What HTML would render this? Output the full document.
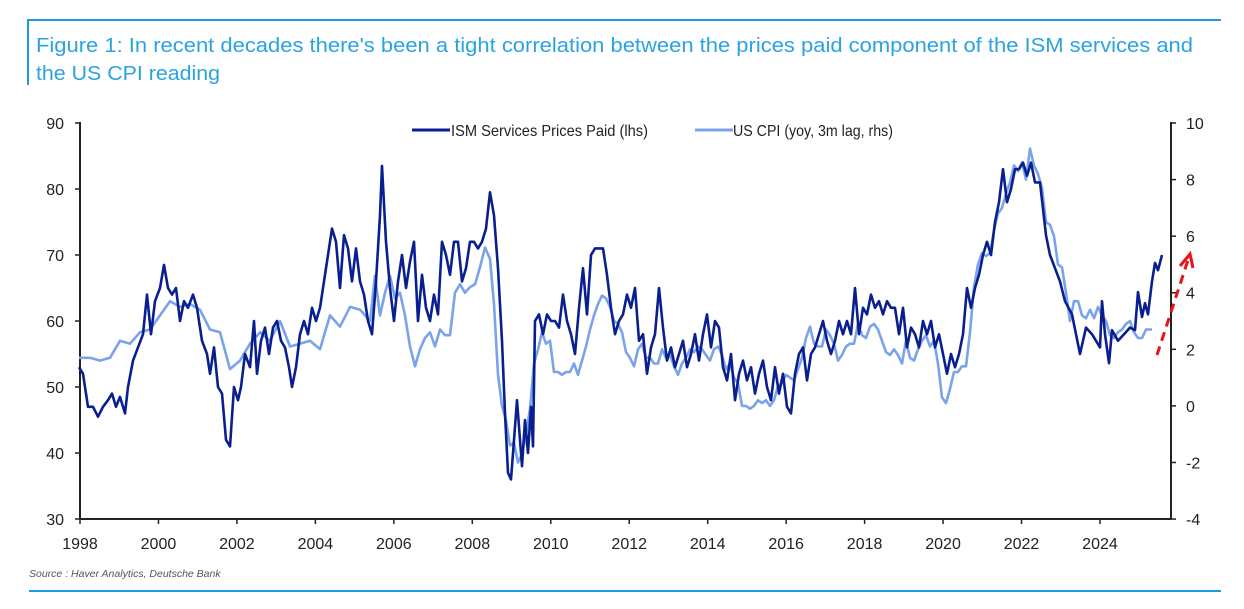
<!DOCTYPE html>
<html><head><meta charset="utf-8"><style>
html,body{margin:0;padding:0;background:#fff;}
body{width:1244px;height:604px;overflow:hidden;font-family:"Liberation Sans",sans-serif;}
</style></head><body>
<svg id="s" width="1244" height="604" viewBox="0 0 1244 604" xmlns="http://www.w3.org/2000/svg" font-family="Liberation Sans, sans-serif">
<line x1="27" y1="20" x2="1221" y2="20" stroke="#1e9be0" stroke-width="2"/>
<line x1="28" y1="20" x2="28" y2="85" stroke="#1e9be0" stroke-width="2"/>
<text x="36" y="52" font-size="20.5" fill="#2aa3df" textLength="1157" lengthAdjust="spacingAndGlyphs">Figure 1: In recent decades there's been a tight correlation between the prices paid component of the ISM services and</text>
<text x="36" y="80" font-size="20.5" fill="#2aa3df" textLength="184" lengthAdjust="spacingAndGlyphs">the US CPI reading</text>
<line x1="29" y1="591" x2="1221" y2="591" stroke="#1e9be0" stroke-width="2"/>
<text x="29" y="577" font-size="10.5" font-style="italic" fill="#555">Source : Haver Analytics, Deutsche Bank</text>
<g id="axes" stroke="#222" stroke-width="2" fill="none">
<line x1="80" y1="122" x2="80" y2="519"/>
<line x1="80" y1="519" x2="1171" y2="519"/>
<line x1="1171" y1="122" x2="1171" y2="519"/>
</g>
<g id="ticks" stroke="#222" stroke-width="1.5"></g>
<g id="labels" font-size="16" fill="#222"></g>
<line x1="412" y1="130" x2="450" y2="130" stroke="#0a1f8f" stroke-width="3"/>
<text x="451" y="136" font-size="16" fill="#222" textLength="197" lengthAdjust="spacingAndGlyphs">ISM Services Prices Paid (lhs)</text>
<line x1="695" y1="130" x2="733" y2="130" stroke="#7aa3ea" stroke-width="3"/>
<text x="733" y="136" font-size="16" fill="#222" textLength="160" lengthAdjust="spacingAndGlyphs">US CPI (yoy, 3m lag, rhs)</text>
<polyline id="cpi" fill="none" stroke="#7aa3ea" stroke-width="2.6" stroke-linejoin="round"/>
<polyline id="ism" fill="none" stroke="#0a1f8f" stroke-width="2.6" stroke-linejoin="round"/>
<path d="M1157 355 L1188 260" stroke="#e8141c" stroke-width="3" stroke-dasharray="9,6" fill="none"/>
<path d="M1180 266 L1190 254 L1193 268" stroke="#e8141c" stroke-width="3" fill="none"/>
</svg>
<script>
var NS="http://www.w3.org/2000/svg";
function el(p,t,a,txt){var e=document.createElementNS(NS,t);for(var k in a)e.setAttribute(k,a[k]);if(txt!=null)e.textContent=txt;document.getElementById(p).appendChild(e);}
for(var v=30;v<=90;v+=10){var y=519-(v-30)*6.6;el("ticks","line",{x1:75,y1:y,x2:80,y2:y});el("labels","text",{x:64,y:y+6,"text-anchor":"end"},v);}
for(var v=-4;v<=10;v+=2){var y=123+(10-v)*28.29;el("ticks","line",{x1:1171,y1:y,x2:1176,y2:y});el("labels","text",{x:1186,y:y+6},v);}
for(var yr=1998;yr<=2024;yr+=2){var x=80+(yr-1998)*39.23;el("ticks","line",{x1:x,y1:519,x2:x,y2:524});el("labels","text",{x:x,y:549,"text-anchor":"middle"},yr);}
var ism=[79,53,83,52,88,47,93,47,98,45.5,103,47,108,48,112,49,116,47,120,48.5,125,46,128,50,133,54,138,56,143,58,147,64,151,58,155,63,160,65,164,68.5,168,65,172,64,176,65,180,60,184,63,188,62,193,64,197,62,202,57,207,55,210,52,214,56,218,50,222,49,226,42,230,41,234,50,238,48,241,50,245,55,250,53,254,60,257,52,261,57,265,59,269,55,273,59,277,60,281,57,285,56,289,53,292,50,296,53,300,58,304,60,308,58,312,62,316,60,320,62,324,66,328,70,332,74,336,72,340,65,344,73,348,71,352,66,356,71,360,66,364,64,368,60,372,58,376,66,380,76,382,83.5,386,72,390,65,394,60,398,66,402,70,406,65,410,69,414,72,418,60,422,67,426,62,430,60,434,64,438,61,442,72,446,70,450,67,454,72,458,72,462,66,466,68,470,72,474,72,478,71,482,72,486,74,490,79.5,494,76,498,68,502,57,505,46,508,37,511,36,514,42,517,48,520,42,522,38,525,45,528,40,531,47,533,41,535,60,539,61,543,58,547,61,551,60,555,60,559,59,563,64,567,60,571,58,575,55,579,62,583,68,587,61,591,70,595,71,599,71,603,71,607,67,611,62,615,58,619,60,623,61,627,64,631,62,635,65,639,57,643,58,647,52,651,56,655,58,659,65,663,59,667,54,671,56,675,53,679,55,683,57,687,53,691,55,695,58,699,54,703,58,707,61,711,56,715,60,719,59,723,53,727,51,731,55,735,48,739,52,743,54,747,51,751,53,755,49,759,52,763,54,767,50,771,48,775,53,779,49,783,52,787,47,791,46,795,52,799,55,803,56,807,51,811,55,815,56,819,58,823,60,827,57,831,55,835,57,839,60,843,58,847,60,851,58,855,65,859,58,863,62,867,61,871,64,875,62,879,63,883,61,887,63,891,62,895,62,899,58,903,62,907,56,911,59,915,58,919,56,923,60,927,58,931,60,935,56,939,58,943,55,947,52,951,55,955,53,959,55,963,58,967,65,971,62,975,65,979,67,983,70,987,72,991,70,995,75,999,78,1003,83,1007,78,1011,80,1015,83,1019,83,1023,84,1027,82,1031,84,1035,81,1040,81,1046,73,1050,70,1055,68,1060,66,1065,63,1072,61,1076,58,1080,55,1086,59,1092,58,1096,57,1100,56,1102,63,1105,58,1109,53.6,1112,58.6,1118,57,1124,58,1130,59,1135,58.6,1138,64.4,1142,60.6,1145,62.7,1148,61,1152,66,1155,68.8,1158,67.7,1162,70];
var cpi=[79,1.7,90,1.7,100,1.6,110,1.7,120,2.3,130,2.2,140,2.6,150,2.7,160,3.2,170,3.7,180,3.5,190,3.6,200,3.4,210,2.7,220,2.6,230,1.3,240,1.6,250,2.2,260,2.6,270,2.3,280,3.0,290,2.1,300,2.2,310,2.3,320,2.0,330,3.2,340,2.8,350,3.5,360,3.4,370,3.0,375,4.6,380,3.2,385,4.0,390,4.6,395,3.8,400,4.0,405,3.2,410,2.1,415,1.4,420,2.0,425,2.4,430,2.6,435,2.1,440,2.7,445,2.5,450,2.5,455,4.0,460,4.3,465,4.0,470,4.2,475,4.3,480,4.9,485,5.6,490,5.2,494,3.6,498,1.1,502,0.0,506,-0.5,510,-1.4,514,-1.3,518,-2.0,522,-1.7,526,-1.0,530,-0.1,534,1.5,538,2.0,542,2.6,546,2.2,550,2.3,554,1.2,558,1.2,562,1.1,566,1.2,570,1.2,574,1.5,578,1.1,582,1.6,586,2.1,590,2.7,594,3.2,598,3.6,602,3.9,606,3.8,610,3.5,614,3.0,618,2.9,622,2.6,626,1.9,630,1.7,634,1.4,638,2.0,642,2.2,646,1.7,650,1.7,654,1.5,658,1.5,662,2.0,666,1.7,670,1.8,674,1.4,678,1.1,682,1.5,686,1.7,690,2.0,694,1.9,698,2.1,702,2.0,706,1.8,710,1.6,714,2.0,718,2.1,722,1.8,726,1.3,730,1.5,734,1.0,738,0.8,742,0.0,746,0.0,750,-0.1,754,0.0,758,0.2,762,0.1,766,0.2,770,0.0,774,0.2,778,0.7,782,0.8,786,1.1,790,1.0,794,0.9,798,1.3,802,1.7,806,2.4,810,2.8,814,2.2,818,2.1,822,2.1,826,2.7,830,2.5,834,2.2,838,1.6,842,1.8,846,2.1,850,2.2,854,2.2,858,2.9,862,2.5,866,2.4,870,2.8,874,2.9,878,2.7,882,2.3,886,1.9,890,1.8,894,2.0,898,1.8,902,1.5,906,2.3,910,1.7,914,1.6,918,2.0,922,2.3,926,2.5,930,2.1,934,2.3,938,1.5,942,0.3,946,0.1,950,0.6,954,1.2,958,1.2,962,1.4,966,1.4,970,2.6,974,4.2,978,5.0,982,5.4,986,5.3,990,5.4,994,6.2,998,6.8,1002,7.0,1006,7.5,1010,7.9,1014,8.5,1018,8.3,1022,8.6,1026,8.0,1030,9.1,1034,8.5,1038,8.2,1042,7.7,1046,6.5,1050,6.4,1054,6.0,1058,5.0,1062,4.9,1066,4.0,1070,3.0,1074,3.7,1078,3.7,1082,3.2,1086,3.1,1090,3.4,1094,3.1,1098,3.5,1102,3.2,1106,3.0,1110,2.5,1114,2.4,1118,2.6,1122,2.7,1126,2.9,1130,3.0,1134,2.6,1138,2.4,1142,2.4,1146,2.7,1152,2.7];
var p=[];for(var i=0;i<ism.length;i+=2)p.push(ism[i]+","+(519-(ism[i+1]-30)*6.6).toFixed(1));
document.getElementById("ism").setAttribute("points",p.join(" "));
p=[];for(var i=0;i<cpi.length;i+=2)p.push(cpi[i]+","+(123+(10-cpi[i+1])*28.29).toFixed(1));
document.getElementById("cpi").setAttribute("points",p.join(" "));
</script>
</body></html>
